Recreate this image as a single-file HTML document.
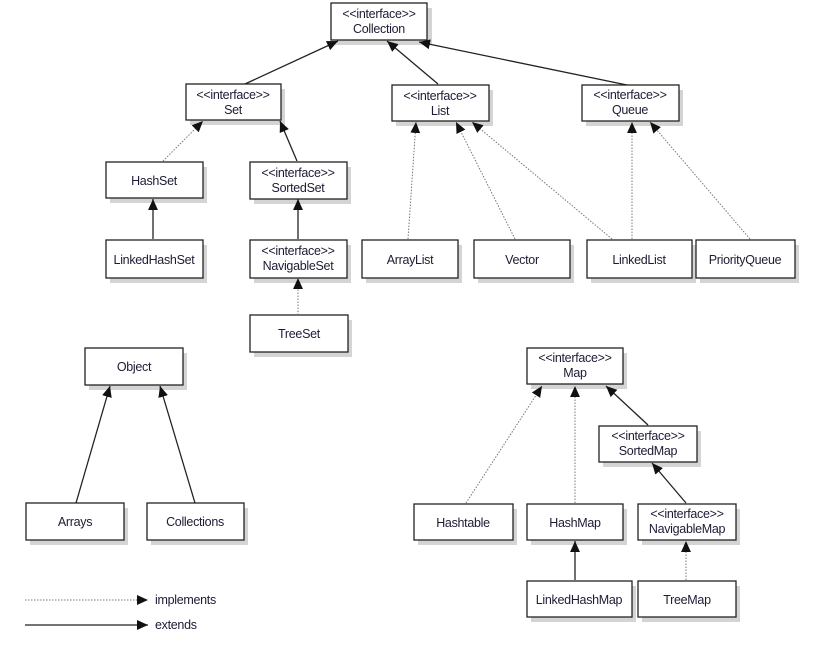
<!DOCTYPE html>
<html><head><meta charset="utf-8"><style>
html,body{margin:0;padding:0;background:#fff;}
svg{display:block;}
text{font-family:"Liberation Sans",sans-serif;font-size:12.5px;fill:#1c1c34;text-anchor:middle;letter-spacing:-0.3px;}
.s{fill:#d4d4d4;}
.b{fill:#fff;stroke:#222;stroke-width:1.3;}
.e{stroke:#222;stroke-width:1.3;fill:none;}
.i{stroke:#777;stroke-width:1;stroke-dasharray:1.5,1.5;fill:none;}
</style></head><body>
<svg width="826" height="654" viewBox="0 0 826 654" xmlns="http://www.w3.org/2000/svg">
<defs>
<marker id="a" viewBox="0 0 10 10" refX="10" refY="5" markerWidth="11" markerHeight="11" markerUnits="userSpaceOnUse" orient="auto"><path d="M0,0.5 L10,5 L0,9.5 z" fill="#111"/></marker>
</defs>

<g>
<rect class="s" x="335" y="8" width="97" height="37"/><rect class="b" x="331" y="3" width="96" height="37"/>
<text x="379" y="18">&lt;&lt;interface&gt;&gt;</text><text x="379" y="33">Collection</text>

<rect class="s" x="190" y="89" width="95" height="36"/><rect class="b" x="186" y="84" width="95" height="36"/>
<text x="233" y="99">&lt;&lt;interface&gt;&gt;</text><text x="233" y="114">Set</text>

<rect class="s" x="396" y="90" width="97" height="36"/><rect class="b" x="392" y="85" width="97" height="36"/>
<text x="440" y="100">&lt;&lt;interface&gt;&gt;</text><text x="440" y="115">List</text>

<rect class="s" x="586" y="90" width="97" height="36"/><rect class="b" x="582" y="85" width="97" height="36"/>
<text x="630" y="99">&lt;&lt;interface&gt;&gt;</text><text x="630" y="114">Queue</text>

<rect class="s" x="110" y="167" width="97" height="36"/><rect class="b" x="106" y="162" width="97" height="36"/>
<text x="154" y="185">HashSet</text>

<rect class="s" x="254" y="167" width="97" height="37"/><rect class="b" x="250" y="162" width="97" height="37"/>
<text x="298" y="177">&lt;&lt;interface&gt;&gt;</text><text x="298" y="192">SortedSet</text>

<rect class="s" x="110" y="245" width="97" height="38"/><rect class="b" x="106" y="240" width="97" height="38"/>
<text x="154" y="264">LinkedHashSet</text>

<rect class="s" x="254" y="245" width="97" height="38"/><rect class="b" x="250" y="240" width="97" height="38"/>
<text x="298" y="255">&lt;&lt;interface&gt;&gt;</text><text x="298" y="270">NavigableSet</text>

<rect class="s" x="366" y="245" width="96" height="38"/><rect class="b" x="362" y="240" width="96" height="38"/>
<text x="410" y="264">ArrayList</text>

<rect class="s" x="478" y="245" width="96" height="38"/><rect class="b" x="474" y="240" width="96" height="38"/>
<text x="522" y="264">Vector</text>

<rect class="s" x="591" y="245" width="105" height="38"/><rect class="b" x="587" y="240" width="105" height="38"/>
<text x="639" y="264">LinkedList</text>

<rect class="s" x="700" y="245" width="99" height="38"/><rect class="b" x="696" y="240" width="99" height="38"/>
<text x="745" y="264">PriorityQueue</text>

<rect class="s" x="254" y="320" width="98" height="37"/><rect class="b" x="250" y="315" width="98" height="37"/>
<text x="299" y="338">TreeSet</text>

<rect class="s" x="89" y="353" width="98" height="37"/><rect class="b" x="85" y="348" width="98" height="37"/>
<text x="134" y="371">Object</text>

<rect class="s" x="30" y="508" width="98" height="37"/><rect class="b" x="26" y="503" width="98" height="37"/>
<text x="75" y="526">Arrays</text>

<rect class="s" x="151" y="508" width="97" height="37"/><rect class="b" x="147" y="503" width="97" height="37"/>
<text x="195" y="526">Collections</text>

<rect class="s" x="531" y="353" width="96" height="36"/><rect class="b" x="527" y="348" width="96" height="36"/>
<text x="575" y="362">&lt;&lt;interface&gt;&gt;</text><text x="575" y="377">Map</text>

<rect class="s" x="603" y="431" width="98" height="36"/><rect class="b" x="599" y="426" width="98" height="36"/>
<text x="648" y="440">&lt;&lt;interface&gt;&gt;</text><text x="648" y="455">SortedMap</text>

<rect class="s" x="418" y="509" width="99" height="36"/><rect class="b" x="414" y="504" width="99" height="36"/>
<text x="463" y="527">Hashtable</text>

<rect class="s" x="531" y="509" width="96" height="36"/><rect class="b" x="527" y="504" width="96" height="36"/>
<text x="575" y="527">HashMap</text>

<rect class="s" x="642" y="509" width="98" height="36"/><rect class="b" x="638" y="504" width="98" height="36"/>
<text x="687" y="518">&lt;&lt;interface&gt;&gt;</text><text x="687" y="533">NavigableMap</text>

<rect class="s" x="531" y="586" width="105" height="36"/><rect class="b" x="527" y="581" width="105" height="36"/>
<text x="579" y="604">LinkedHashMap</text>

<rect class="s" x="642" y="586" width="98" height="36"/><rect class="b" x="638" y="581" width="98" height="36"/>
<text x="687" y="604">TreeMap</text>
</g>

<g>
<line class="e" x1="245" y1="84" x2="338" y2="41" marker-end="url(#a)"/>
<line class="e" x1="438" y1="84" x2="387" y2="41" marker-end="url(#a)"/>
<line class="e" x1="627" y1="85" x2="419" y2="42" marker-end="url(#a)"/>
<line class="i" x1="163" y1="161" x2="203" y2="121" marker-end="url(#a)"/>
<line class="e" x1="297" y1="161" x2="280" y2="121" marker-end="url(#a)"/>
<line class="e" x1="153" y1="239" x2="153" y2="199" marker-end="url(#a)"/>
<line class="e" x1="298" y1="239" x2="298" y2="199" marker-end="url(#a)"/>
<line class="i" x1="298" y1="315" x2="298" y2="278" marker-end="url(#a)"/>
<line class="i" x1="408" y1="239" x2="416" y2="122" marker-end="url(#a)"/>
<line class="i" x1="515" y1="239" x2="456" y2="122" marker-end="url(#a)"/>
<line class="i" x1="612" y1="239" x2="472" y2="122" marker-end="url(#a)"/>
<line class="i" x1="632" y1="239" x2="632" y2="122" marker-end="url(#a)"/>
<line class="i" x1="750" y1="239" x2="650" y2="122" marker-end="url(#a)"/>

<line class="e" x1="76" y1="503" x2="110" y2="386" marker-end="url(#a)"/>
<line class="e" x1="195" y1="503" x2="160" y2="386" marker-end="url(#a)"/>

<line class="i" x1="466" y1="503" x2="542" y2="386" marker-end="url(#a)"/>
<line class="i" x1="575" y1="503" x2="575" y2="386" marker-end="url(#a)"/>
<line class="e" x1="648" y1="425" x2="606" y2="386" marker-end="url(#a)"/>
<line class="e" x1="686" y1="503" x2="652" y2="463" marker-end="url(#a)"/>
<line class="e" x1="575" y1="580" x2="575" y2="541" marker-end="url(#a)"/>
<line class="i" x1="686" y1="580" x2="686" y2="541" marker-end="url(#a)"/>

<line class="i" x1="25" y1="600" x2="148" y2="600" marker-end="url(#a)"/>
<line class="e" x1="25" y1="625" x2="148" y2="625" marker-end="url(#a)"/>
</g>

<text x="155" y="604" style="text-anchor:start">implements</text>
<text x="155" y="629" style="text-anchor:start">extends</text>
</svg>
</body></html>
